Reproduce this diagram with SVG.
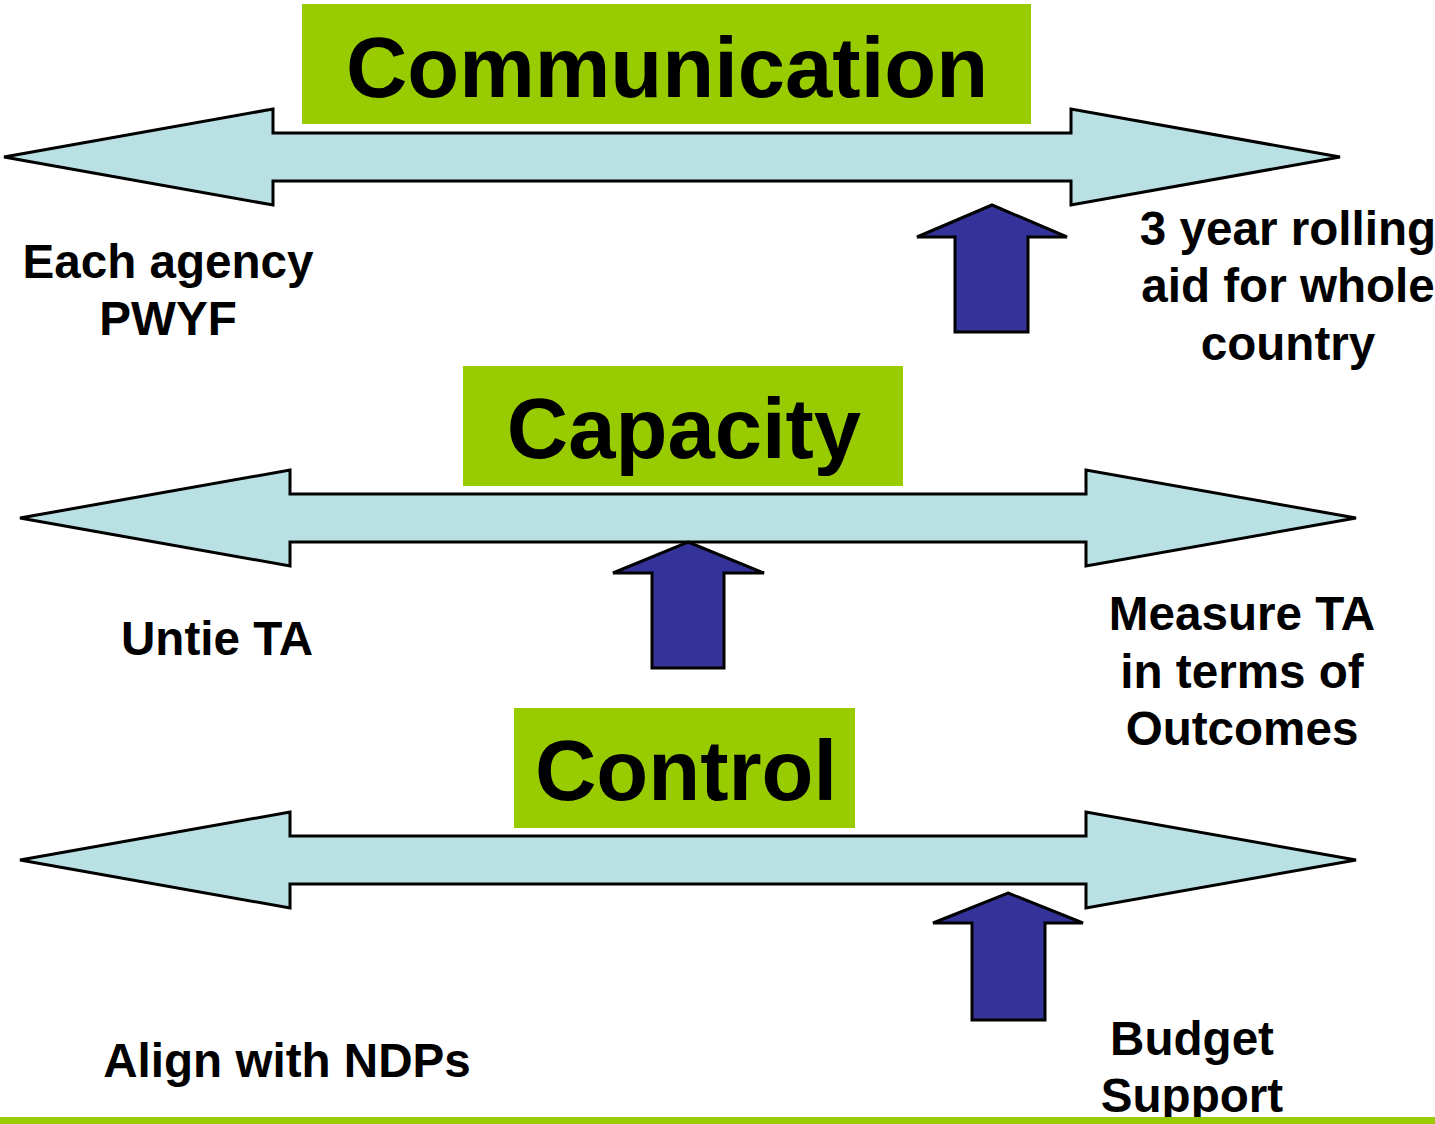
<svg xmlns="http://www.w3.org/2000/svg" width="1435" height="1124" viewBox="0 0 1435 1124">
<style>
.dbl{fill:#b9e0e3;stroke:#000;stroke-width:3;stroke-linejoin:miter}
.up{fill:#333399;stroke:#000;stroke-width:3;stroke-linejoin:miter}
.box{fill:#99cc00}
.title{font-family:"Liberation Sans",Arial,sans-serif;font-weight:bold;font-size:85px;fill:#000;text-anchor:middle}
.lbl{font-family:"Liberation Sans",Arial,sans-serif;font-weight:bold;font-size:47.6px;fill:#000;text-anchor:middle}
</style>
<rect x="0" y="0" width="1435" height="1124" fill="#fff"/>
<g id="connectors">
<polygon id="band-communication" class="dbl" points="4,157 273,109 273,133 1071,133 1071,109 1340,157 1071,205 1071,181 273,181 273,205"/>
<polygon id="band-capacity" class="dbl" points="20,518 290,470 290,494 1086,494 1086,470 1356,518 1086,566 1086,542 290,542 290,566"/>
<polygon id="band-control" class="dbl" points="20,860 290,812 290,836 1086,836 1086,812 1356,860 1086,908 1086,884 290,884 290,908"/>
<polygon id="up-1" class="up" points="992,205 1067,237 1028,237 1028,332 955,332 955,237 917,237"/>
<polygon id="up-2" class="up" points="688,542 764,573 724,573 724,668 652,668 652,573 613,573"/>
<polygon id="up-3" class="up" points="1008,893 1083,923 1045,923 1045,1020 972,1020 972,923 933,923"/>
</g>
<g id="node-communication">
<rect class="box" x="302" y="4" width="729" height="120"/>
<text class="title" x="667" y="97">Communication</text>
</g>
<g id="node-capacity">
<rect class="box" x="463" y="366" width="440" height="120"/>
<text class="title" x="684" y="458">Capacity</text>
</g>
<g id="node-control">
<rect class="box" x="514" y="708" width="341" height="120"/>
<text class="title" x="686" y="800">Control</text>
</g>
<g id="label-each-agency">
<text class="lbl" x="168" y="278">Each agency</text>
<text class="lbl" x="168" y="335">PWYF</text>
</g>
<g id="label-rolling">
<text class="lbl" x="1288" y="245">3 year rolling</text>
<text class="lbl" x="1288" y="302">aid for whole</text>
<text class="lbl" x="1288" y="360">country</text>
</g>
<g id="label-untie">
<text class="lbl" x="217" y="655">Untie TA</text>
</g>
<g id="label-measure">
<text class="lbl" x="1242" y="630">Measure TA</text>
<text class="lbl" x="1242" y="688">in terms of</text>
<text class="lbl" x="1242" y="745">Outcomes</text>
</g>
<g id="label-align">
<text class="lbl" x="287" y="1077">Align with NDPs</text>
</g>
<g id="label-budget">
<text class="lbl" x="1192" y="1055">Budget</text>
<text class="lbl" x="1192" y="1112">Support</text>
</g>
<rect id="footer-line" x="0" y="1117" width="1435" height="7" fill="#99cc00"/>
</svg>
